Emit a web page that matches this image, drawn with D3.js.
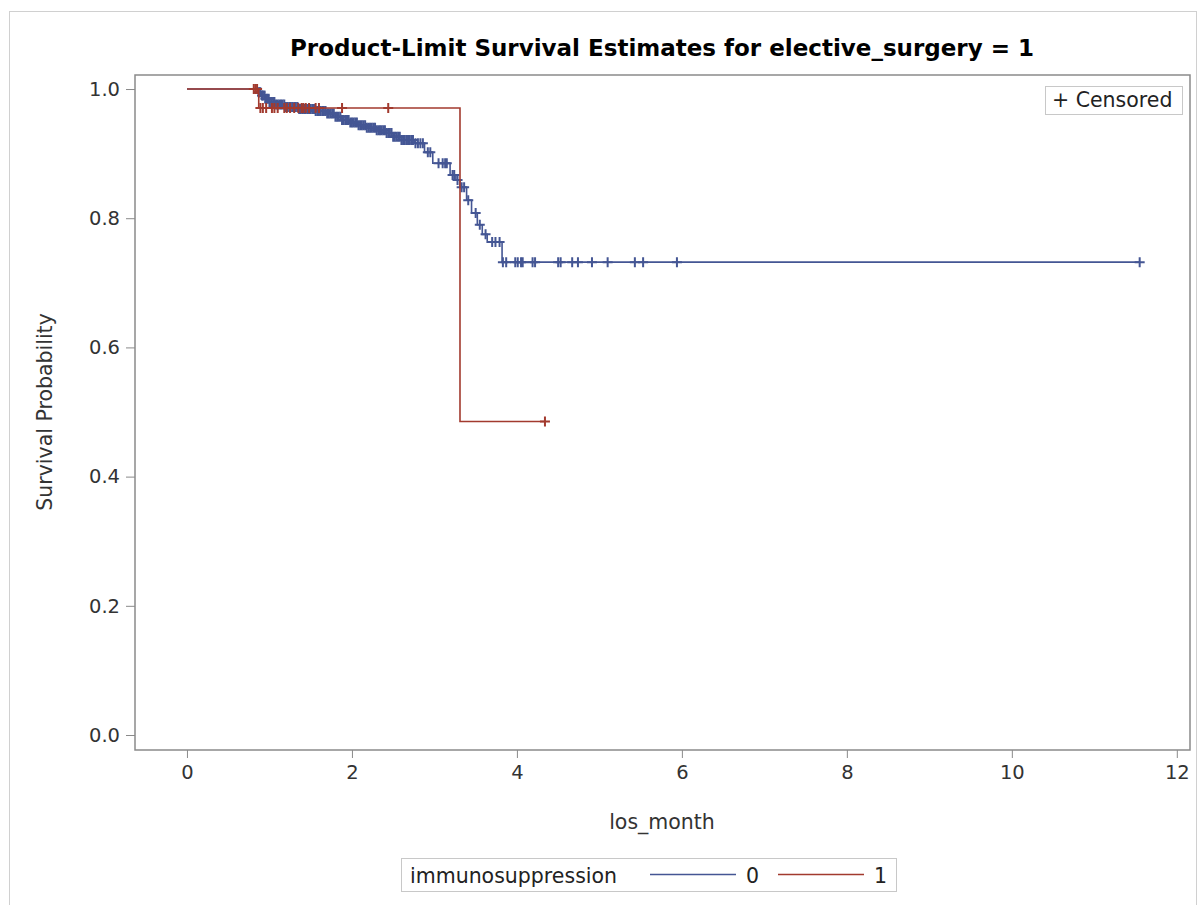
<!DOCTYPE html>
<html>
<head>
<meta charset="utf-8">
<script src="https://cdn.jsdelivr.net/npm/d3@7"></script>
<style>
body { margin: 0; background: #fff; }
text { font-family: "DejaVu Sans", sans-serif; }
</style>
</head>
<body>
<div id="chart"></div>
<script>
// step curve values
var steps0 = [[0,1.0],[0.86,0.995],[0.90,0.99],[0.95,0.985],[1.00,0.98],[1.08,0.976],[1.20,0.972],[1.35,0.969],[1.55,0.966],[1.70,0.962],[1.80,0.957],[1.88,0.952],[1.98,0.948],[2.08,0.944],[2.18,0.940],[2.30,0.936],[2.42,0.932],[2.50,0.926],[2.60,0.921],[2.76,0.916],[2.88,0.902],[2.98,0.885],[3.19,0.867],[3.26,0.859],[3.31,0.848],[3.39,0.828],[3.45,0.808],[3.52,0.79],[3.58,0.775],[3.64,0.763],[3.82,0.732]];
var end0 = 11.55;
var cens0 = [0.87,0.88,0.89,0.91,0.92,0.94,0.95,0.97,0.99,1.0,1.02,1.03,1.05,1.06,1.08,1.1,1.12,1.14,1.16,1.18,1.2,1.22,1.24,1.26,1.28,1.3,1.32,1.34,1.36,1.38,1.4,1.42,1.44,1.46,1.48,1.5,1.52,1.54,1.56,1.58,1.6,1.62,1.64,1.66,1.68,1.7,1.72,1.74,1.76,1.78,1.8,1.82,1.84,1.86,1.88,1.9,1.92,1.94,1.96,1.98,2.0,2.02,2.04,2.06,2.08,2.1,2.12,2.14,2.16,2.18,2.2,2.22,2.24,2.26,2.28,2.3,2.32,2.34,2.36,2.38,2.4,2.42,2.44,2.46,2.48,2.5,2.52,2.54,2.56,2.58,2.6,2.62,2.64,2.66,2.68,2.7,2.72,2.74,2.77,2.8,2.83,2.86,2.92,2.95,3.05,3.1,3.13,3.15,3.22,3.24,3.28,3.33,3.36,3.41,3.5,3.55,3.62,3.7,3.74,3.79,3.83,3.87,3.98,4.01,4.05,4.07,4.19,4.22,4.5,4.53,4.67,4.74,4.91,5.10,5.43,5.53,5.94,11.55];
var steps1 = [[0,1.0],[0.87,0.9706],[3.31,0.4853]];
var end1 = 4.34;
var cens1 = [0.81,0.83,0.85,0.89,0.92,0.96,1.03,1.06,1.1,1.18,1.21,1.25,1.3,1.35,1.39,1.41,1.44,1.48,1.56,1.6,1.88,2.44,4.34];
var xTicks = [0,2,4,6,8,10,12];
var yTicks = [0.0,0.2,0.4,0.6,0.8,1.0];
var groups = ["0","1"];
var colors = ["#445694","#A23A2E"];

var W = 1199, H = 905;
var svg = d3.select("#chart").append("svg").attr("width", W).attr("height", H);
svg.append("rect").attr("x",9.5).attr("y",11.5).attr("width",1187).attr("height",905).attr("fill","none").attr("stroke","#d0d0d0");

var L = 135, R = 1190, T = 75, B = 750;
var x = d3.scaleLinear().domain([-0.63, 12.16]).range([L, R]);
var y = d3.scaleLinear().domain([-0.0232, 1.0217]).range([B, T]);

svg.append("text").attr("x",662).attr("y",56).attr("text-anchor","middle")
  .style("font-size","23px").style("font-weight","bold").attr("fill","#000")
  .text("Product-Limit Survival Estimates for elective_surgery = 1");

var xAxis = svg.append("g").attr("transform","translate(0,"+B+")")
  .call(d3.axisBottom(x).tickValues(xTicks).tickSize(8).tickSizeOuter(0).tickPadding(7));
var yAxis = svg.append("g").attr("transform","translate("+L+",0)")
  .call(d3.axisLeft(y).tickValues(yTicks).tickFormat(d3.format(".1f")).tickSize(9).tickSizeOuter(0).tickPadding(6));
[xAxis, yAxis].forEach(function(a){
  a.select(".domain").remove();
  a.selectAll("line").attr("stroke","#8a8a8a");
  a.selectAll("text").style("font-size","19.5px").attr("fill","#333").style("font-family","'DejaVu Sans', sans-serif");
});
svg.append("rect").attr("x",L).attr("y",T).attr("width",R-L).attr("height",B-T)
  .attr("fill","none").attr("stroke","#8a8a8a").attr("stroke-width",1.5);

svg.append("text").attr("x",662).attr("y",829).attr("text-anchor","middle")
  .style("font-size","20.5px").attr("fill","#333").text("los_month");
svg.append("text").attr("transform","translate(52,412) rotate(-90)").attr("text-anchor","middle")
  .style("font-size","20.5px").attr("fill","#333").text("Survival Probability");

function stepAt(steps, t) {
  var s = steps[0][1];
  steps.forEach(function(p){ if (p[0] <= t) s = p[1]; });
  return s;
}

var line = d3.line().x(function(d){return x(d[0]);}).y(function(d){return y(d[1]);}).curve(d3.curveStepAfter);
var plot = svg.append("g");
[[steps0,end0,cens0],[steps1,end1,cens1]].forEach(function(g, i){
  var pts = g[0].concat([[g[1], g[0][g[0].length-1][1]]]);
  plot.append("path").datum(pts).attr("d", line).attr("fill","none")
    .attr("stroke", colors[i]).attr("stroke-width",1.6);
  plot.append("g").selectAll("path").data(g[2]).enter().append("path")
    .attr("d", function(t){
      var cx = x(t), cy = y(stepAt(g[0], t));
      return "M"+(cx-5)+","+cy+"H"+(cx+5)+"M"+cx+","+(cy-5)+"V"+(cy+5);
    })
    .attr("stroke", colors[i]).attr("stroke-width",2).attr("fill","none");
});

// censored legend
svg.append("rect").attr("x",1045.5).attr("y",86.5).attr("width",137).attr("height",28)
  .attr("fill","#fff").attr("stroke","#c8c8c8");
svg.append("text").attr("x",1052).attr("y",107).style("font-size","20.5px").attr("fill","#222").text("+ Censored");

// group legend
var lg = svg.append("g");
lg.append("rect").attr("x",401.5).attr("y",858.5).attr("width",495).attr("height",33)
  .attr("fill","#fff").attr("stroke","#c8c8c8");
lg.append("text").attr("x",410).attr("y",883).style("font-size","20.5px").attr("fill","#222").text("immunosuppression");
var lx = [650, 778];
groups.forEach(function(g, i){
  lg.append("line").attr("x1",lx[i]).attr("x2",lx[i]+86).attr("y1",874.5).attr("y2",874.5)
    .attr("stroke",colors[i]).attr("stroke-width",1.6);
  lg.append("text").attr("x",lx[i]+96).attr("y",883).style("font-size","20.5px").attr("fill","#222").text(g);
});
</script>
</body>
</html>
